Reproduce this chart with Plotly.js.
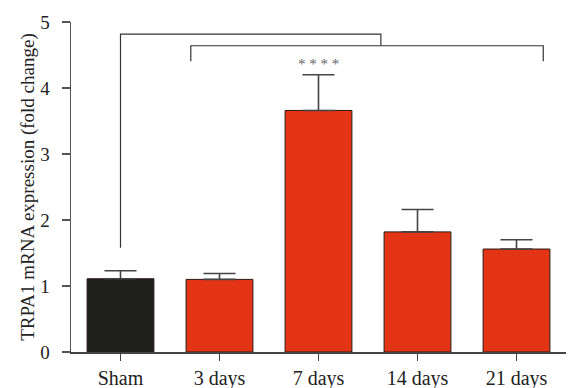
<!DOCTYPE html>
<html><head><meta charset="utf-8">
<script src="https://cdn.plot.ly/plotly-3.0.1.min.js"></script>
<style>html,body{margin:0;padding:0;background:#fff;}#chart{width:568px;height:388px;}</style>
</head><body><div id="chart"></div>
<script>
const categories = ["Sham", "3 days", "7 days", "14 days", "21 days"];
const means = [1.11, 1.10, 3.66, 1.82, 1.56];
const errUpper = [0.12, 0.09, 0.54, 0.34, 0.14];
const barColors = ["#1e1e1c", "#e33516", "#e33516", "#e33516", "#e33516"];
const yTickVals = [0, 1, 2, 3, 4, 5];
const yTitle = "TRPA1 mRNA expression (fold change)";
const sigLabel = "* * * *";
// comparison brackets (x in category index units, y in data units)
const bracketShamX = [0, 2.63];
const bracketShamY = [1.58, 4.815, 4.64];
const bracketDaysX = [0.71, 4.27];
const bracketDaysY = [4.405, 4.64];
const sigIndex = 2;
const sigY = 4.36;

const xIdx = categories.map((c, i) => i);
const font = "Liberation Serif, DejaVu Serif, serif";

const trace = {
  type: "bar",
  x: xIdx,
  y: means,
  width: 0.675,
  marker: {color: barColors, line: {color: "#2a1a14", width: 1}},
  error_y: {type: "data", symmetric: false, array: errUpper, arrayminus: means.map(() => 0),
            color: "#444", thickness: 1.6, width: 16},
  hoverinfo: "none"
};

const lineStyle = {color: "#333", width: 1.2};
const shapes = [
  {type: "path", xref: "x", yref: "y", line: lineStyle,
   path: `M ${bracketShamX[0]} ${bracketShamY[0]} L ${bracketShamX[0]} ${bracketShamY[1]} L ${bracketShamX[1]} ${bracketShamY[1]} L ${bracketShamX[1]} ${bracketShamY[2]}`},
  {type: "path", xref: "x", yref: "y", line: lineStyle,
   path: `M ${bracketDaysX[0]} ${bracketDaysY[0]} L ${bracketDaysX[0]} ${bracketDaysY[1]} L ${bracketDaysX[1]} ${bracketDaysY[1]} L ${bracketDaysX[1]} ${bracketDaysY[0]}`}
];

const layout = {
  width: 568, height: 388,
  margin: {l: 71, r: 2, t: 22, b: 36, pad: 0},
  paper_bgcolor: "#fff", plot_bgcolor: "#fff",
  showlegend: false,
  font: {family: font, size: 19, color: "#222"},
  xaxis: {
    range: [-0.5, 4.5], tickmode: "array", tickvals: xIdx, ticktext: categories,
    showline: true, linecolor: "#444", linewidth: 1.5,
    ticks: "outside", ticklen: 7, tickwidth: 1.5, tickcolor: "#444",
    showgrid: false, zeroline: false, fixedrange: true,
    tickfont: {family: font, size: 20, color: "#222"}
  },
  yaxis: {
    range: [0, 5], tickmode: "array", tickvals: yTickVals,
    showline: true, linecolor: "#555", linewidth: 1.5,
    ticks: "outside", ticklen: 8, tickwidth: 1.5, tickcolor: "#555",
    showgrid: false, zeroline: false, fixedrange: true,
    ticklabelstandoff: 8,
    tickfont: {family: font, size: 19, color: "#222"},
    title: {text: yTitle, font: {family: font, size: 19, color: "#222"}, standoff: 0}
  },
  shapes: shapes,
  annotations: [{x: sigIndex, y: sigY, xref: "x", yref: "y", text: sigLabel, showarrow: false,
                 font: {family: font, size: 15, color: "#666"}}]
};

Plotly.newPlot("chart", [trace], layout, {displayModeBar: false, staticPlot: true});
</script></body></html>
